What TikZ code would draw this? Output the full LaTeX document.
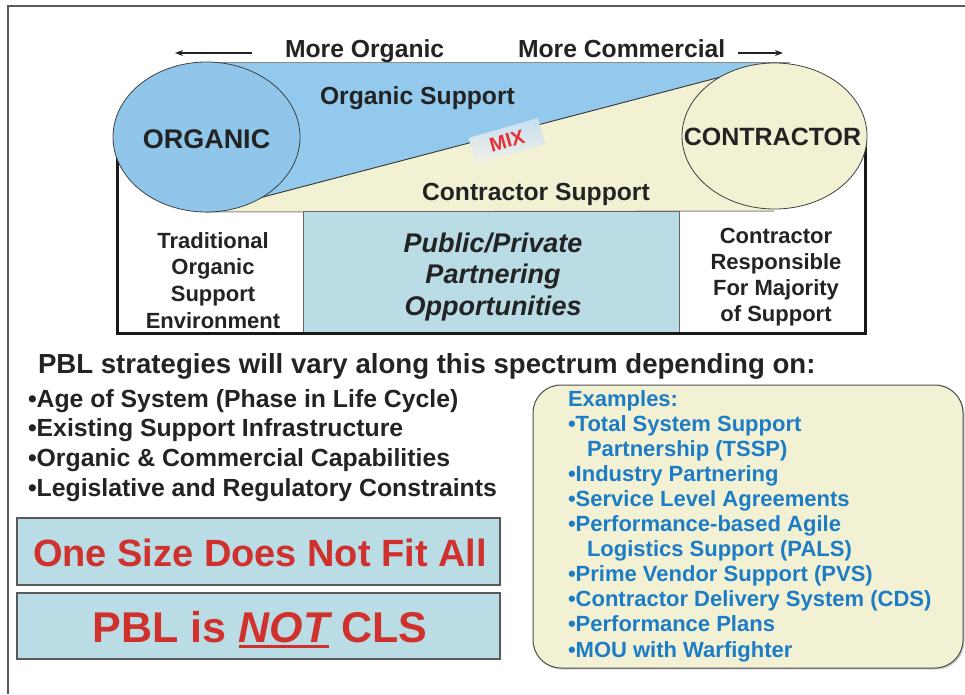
\documentclass[tikz,border=0pt]{standalone}
\usepackage{fontspec}
\setmainfont{Liberation Sans}
\usetikzlibrary{shapes.geometric,arrows.meta,shadows}
\definecolor{bandblue}{HTML}{92C9EC}
\definecolor{orgblue}{HTML}{8FC6EA}
\definecolor{cream}{HTML}{F3F1D3}
\definecolor{boxblue}{HTML}{B9DCE5}
\definecolor{redtxt}{HTML}{D0312D}
\definecolor{mixred}{HTML}{E8303A}
\definecolor{bluetxt}{HTML}{1C7CC6}
\definecolor{darktxt}{HTML}{232323}
\definecolor{mixtop}{HTML}{C6DFF1}
\definecolor{mixbot}{HTML}{F2F1E6}
\newcommand\myfs[1]{\fontsize{#1pt}{#1pt}\selectfont\bfseries}
\newcommand\myul[1]{\vtop{\hbox{#1}\kern2.5pt\hrule height 2.6pt}}
\tikzset{
  txt/.style={inner sep=0pt, outer sep=0pt, text=darktxt, anchor=base},
  lw/.style={txt, anchor=base west},
  oval/.style={ellipse, draw=black!75, line width=0.8pt, inner sep=0pt},
  redbox/.style={draw=black!65, line width=1.3pt, fill=boxblue, minimum width=483, inner sep=0pt},
  arr/.style={-{Stealth[length=8pt,width=6pt]}, line width=1.3pt, draw=darktxt},
}
\begin{document}
\begin{tikzpicture}[x=1pt,y=-1pt]
\useasboundingbox (0,0) rectangle (965,694);
% outer frame
\draw[line width=2pt, black!65] (8,694) -- (8,6) -- (965,6);
% spectrum band
\coordinate (ot) at (206,62);
\coordinate (ob) at (206,212);
\coordinate (ct) at (774,63);
\coordinate (cb) at (774,211);
\coordinate (te) at (790,62);
\fill[cream] (ob) -- (ct) -- (cb) -- cycle;
\fill[bandblue] (ot) -- (te) -- (ct) -- (ob) -- cycle;
\draw[black!45, line width=1pt] (ot) -- (te);
\draw[black!45, line width=1pt] (ob) -- (cb);
\draw[black!80, line width=0.9pt] (ob) -- (ct);
% lower frame and middle box
\node[draw=black!60, line width=0.8pt, fill=boxblue, minimum width=376, minimum height=122, inner sep=0pt] (ppp) at (491,272) {};
\coordinate (fl) at (117,140);
\coordinate (fbl) at (117,333);
\coordinate (fbr) at (865,333);
\coordinate (fr) at (865,140);
\draw[line width=3pt, black!90] (fl) -- (fbl) -- (fbr) -- (fr);
% ellipses
\node[oval, fill=orgblue, minimum width=187, minimum height=150] (org) at (206.5,137) {};
\node[oval, fill=cream, minimum width=185, minimum height=146] (con) at (774.5,136) {};
\node[txt, font=\myfs{27}] (orgl) at (206.5,148) {ORGANIC};
\node[txt, font=\myfs{25}] (conl) at (772.5,145) {CONTRACTOR};
% arrows and top labels
\coordinate (la1) at (252,53); \coordinate (la2) at (175,53);
\coordinate (ra1) at (738,53); \coordinate (ra2) at (783,53);
\draw[arr] (la1) -- (la2);
\draw[arr] (ra1) -- (ra2);
\node[lw, font=\myfs{24.7}] (mo) at (285,57) {More Organic};
\node[lw, font=\myfs{24.7}] (mc) at (518,57) {More Commercial};
\node[lw, font=\myfs{24.7}] (os) at (320,104) {Organic Support};
\node[lw, font=\myfs{24.7}] (cs) at (422,200) {Contractor Support};
% MIX
\node[rotate=16, minimum width=72, minimum height=27, inner sep=0pt, top color=mixtop, bottom color=mixbot, font=\myfs{20}, text=mixred] (mix) at (507,141) {MIX};
% lower columns
\foreach \lbl [count=\i] in {Traditional, Organic, Support, Environment}
  \node[txt, font=\myfs{22}] (tr\i) at (213, 248+26.7*\i-26.7) {\lbl};
\foreach \lbl [count=\i] in {Contractor, Responsible, For Majority, of Support}
  \node[txt, font=\myfs{22}] (cr\i) at (776, 243+26.3*\i-26.3) {\lbl};
\node[txt, font=\myfs{27}\itshape] (pp1) at (493,252) {Public/Private};
\node[txt, font=\myfs{27}\itshape] (pp2) at (493,283.5) {Partnering};
\node[txt, font=\myfs{27}\itshape] (pp3) at (493,315) {Opportunities};
% heading and bullets
\node[lw, font=\myfs{27.6}] (head) at (38,373) {PBL strategies will vary along this spectrum depending on:};
\foreach \lbl [count=\i] in {•Age of System (Phase in Life Cycle), •Existing Support Infrastructure, •Organic \& Commercial Capabilities, •Legislative and Regulatory Constraints}
  \node[lw, font=\myfs{24.8}] (bl\i) at (28, 407+29.7*\i-29.7) {\lbl};
% red boxes
\node[redbox, minimum height=67] (box1) at (258.5,551.5) {};
\node[txt, font=\myfs{38}, text=redtxt] (one) at (260,566) {One Size Does Not Fit All};
\node[redbox, minimum height=66] (box2) at (258.5,626) {};
\node[txt, font=\myfs{43}, text=redtxt] (pbl) at (260,642) {PBL is \myul{\itshape NOT} CLS};
% examples box
\node[draw=black!70, line width=1pt, fill=cream, rounded corners=28pt, minimum width=430, minimum height=283, inner sep=0pt, drop shadow={shadow xshift=1.5pt, shadow yshift=-1.5pt, opacity=0.4}] (exbox) at (748,526.5) {};
\foreach \xx/\lbl [count=\i] in {568/Examples:, 568/•Total System Support, 587/Partnership (TSSP), 568/•Industry Partnering, 568/•Service Level Agreements, 568/•Performance-based Agile, 587/Logistics Support (PALS), 568/•Prime Vendor Support (PVS), 568/•Contractor Delivery System (CDS), 568/•Performance Plans, 568/•MOU with Warfighter}
  \node[lw, font=\myfs{22}, text=bluetxt] (ex\i) at (\xx, 406+25.1*\i-25.1) {\lbl};
\end{tikzpicture}
\end{document}
